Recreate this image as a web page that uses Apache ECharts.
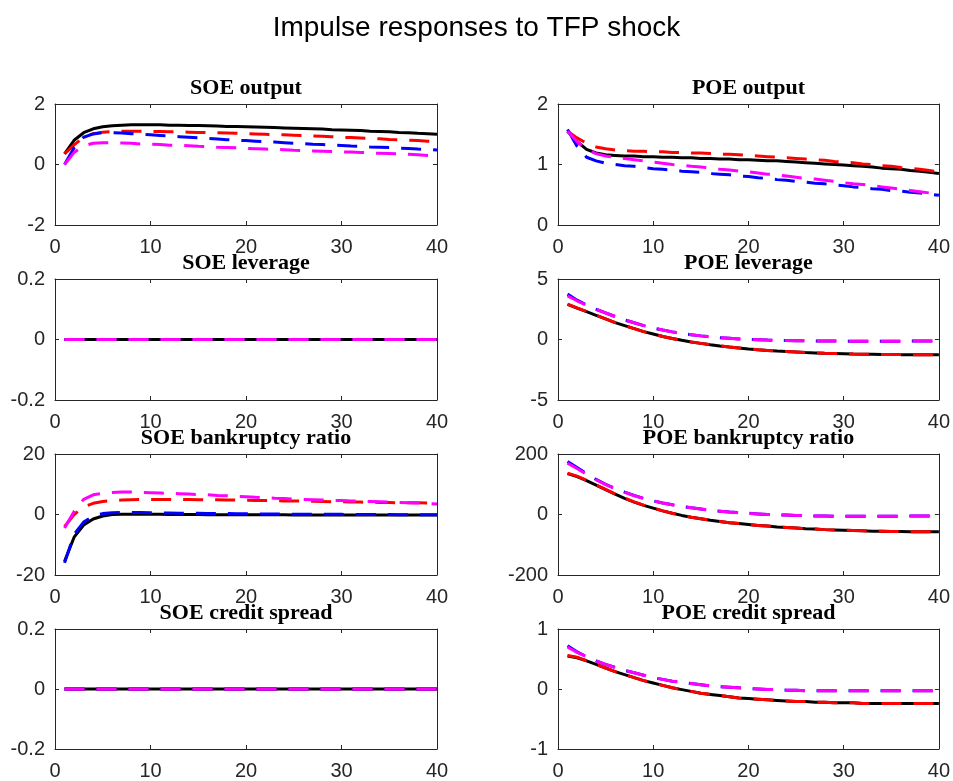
<!DOCTYPE html>
<html>
<head>
<meta charset="utf-8">
<title>Impulse responses to TFP shock</title>
<script src="https://cdn.jsdelivr.net/npm/echarts@6.0.0/dist/echarts.min.js"></script>
<style>
  html, body { margin: 0; padding: 0; background: #fff; }
  #chart { width: 953px; height: 781px; }
</style>
</head>
<body>
<div id="chart"></div>
<script>
const periods = [1, 2, 3, 4, 5, 6, 7, 8, 9, 10, 11, 12, 13, 14, 15, 16, 17, 18, 19, 20,
  21, 22, 23, 24, 25, 26, 27, 28, 29, 30, 31, 32, 33, 34, 35, 36, 37, 38, 39, 40];
const periodTicks = [0, 10, 20, 30, 40];

// SOE output
const soeOutputTicks = [-2, 0, 2];
const soeOutputBlack = [0.35, 0.80, 1.05, 1.18, 1.25, 1.28, 1.30, 1.31, 1.31, 1.31, 1.31, 1.30, 1.30, 1.29, 1.29, 1.28, 1.27, 1.26, 1.26, 1.25,
  1.24, 1.23, 1.22, 1.21, 1.20, 1.19, 1.18, 1.17, 1.15, 1.14, 1.13, 1.12, 1.10, 1.09, 1.08, 1.06, 1.05, 1.03, 1.02, 1.00];
const soeOutputRed = [0.35, 0.65, 0.90, 1.02, 1.07, 1.09, 1.10, 1.10, 1.10, 1.09, 1.09, 1.08, 1.08, 1.07, 1.06, 1.06, 1.05, 1.04, 1.03, 1.02,
  1.01, 1.00, 0.99, 0.98, 0.97, 0.96, 0.94, 0.93, 0.92, 0.90, 0.89, 0.88, 0.86, 0.85, 0.83, 0.82, 0.80, 0.79, 0.77, 0.75];
const soeOutputBlue = [0.00, 0.55, 0.90, 1.01, 1.05, 1.05, 1.04, 1.02, 1.00, 0.98, 0.96, 0.94, 0.92, 0.90, 0.88, 0.86, 0.84, 0.82, 0.80, 0.79,
  0.77, 0.75, 0.74, 0.72, 0.70, 0.69, 0.67, 0.66, 0.64, 0.63, 0.61, 0.60, 0.58, 0.57, 0.56, 0.54, 0.53, 0.51, 0.50, 0.48];
const soeOutputMagenta = [0.00, 0.40, 0.62, 0.70, 0.72, 0.72, 0.71, 0.70, 0.68, 0.67, 0.66, 0.64, 0.63, 0.62, 0.60, 0.59, 0.57, 0.56, 0.55, 0.53,
  0.52, 0.51, 0.50, 0.49, 0.47, 0.46, 0.45, 0.44, 0.43, 0.42, 0.41, 0.40, 0.38, 0.37, 0.36, 0.35, 0.34, 0.32, 0.30, 0.28];

// POE output
const poeOutputTicks = [0, 1, 2];
const poeOutputBlack = [1.55, 1.38, 1.25, 1.19, 1.16, 1.15, 1.14, 1.14, 1.13, 1.13, 1.12, 1.12, 1.11, 1.11, 1.10, 1.10, 1.09, 1.09, 1.08, 1.08,
  1.07, 1.06, 1.06, 1.05, 1.04, 1.03, 1.02, 1.01, 1.00, 0.99, 0.98, 0.97, 0.96, 0.94, 0.93, 0.92, 0.90, 0.89, 0.87, 0.85];
const poeOutputRed = [1.55, 1.44, 1.35, 1.29, 1.26, 1.24, 1.23, 1.22, 1.22, 1.21, 1.21, 1.20, 1.20, 1.19, 1.19, 1.18, 1.17, 1.17, 1.16, 1.15,
  1.14, 1.13, 1.12, 1.11, 1.10, 1.09, 1.08, 1.07, 1.05, 1.04, 1.03, 1.01, 1.00, 0.98, 0.97, 0.95, 0.94, 0.92, 0.90, 0.88];
const poeOutputBlue = [1.58, 1.30, 1.12, 1.06, 1.02, 1.00, 0.98, 0.97, 0.95, 0.93, 0.92, 0.91, 0.89, 0.88, 0.87, 0.85, 0.84, 0.83, 0.81, 0.80,
  0.78, 0.77, 0.75, 0.74, 0.72, 0.71, 0.69, 0.68, 0.66, 0.65, 0.63, 0.62, 0.60, 0.59, 0.57, 0.56, 0.54, 0.53, 0.51, 0.49];
const poeOutputMagenta = [1.55, 1.38, 1.25, 1.18, 1.14, 1.12, 1.10, 1.08, 1.06, 1.04, 1.02, 1.00, 0.99, 0.97, 0.96, 0.94, 0.92, 0.91, 0.89, 0.88,
  0.86, 0.84, 0.83, 0.81, 0.79, 0.77, 0.76, 0.74, 0.72, 0.70, 0.68, 0.67, 0.65, 0.63, 0.61, 0.59, 0.57, 0.55, 0.53, 0.51];

// SOE leverage
const soeLeverageTicks = [-0.2, 0, 0.2];
const soeLeverageBlack = [0, 0, 0, 0, 0, 0, 0, 0, 0, 0, 0, 0, 0, 0, 0, 0, 0, 0, 0, 0, 0, 0, 0, 0, 0, 0, 0, 0, 0, 0, 0, 0, 0, 0, 0, 0, 0, 0, 0, 0];
const soeLeverageRed = [0, 0, 0, 0, 0, 0, 0, 0, 0, 0, 0, 0, 0, 0, 0, 0, 0, 0, 0, 0, 0, 0, 0, 0, 0, 0, 0, 0, 0, 0, 0, 0, 0, 0, 0, 0, 0, 0, 0, 0];
const soeLeverageBlue = [0, 0, 0, 0, 0, 0, 0, 0, 0, 0, 0, 0, 0, 0, 0, 0, 0, 0, 0, 0, 0, 0, 0, 0, 0, 0, 0, 0, 0, 0, 0, 0, 0, 0, 0, 0, 0, 0, 0, 0];
const soeLeverageMagenta = [0, 0, 0, 0, 0, 0, 0, 0, 0, 0, 0, 0, 0, 0, 0, 0, 0, 0, 0, 0, 0, 0, 0, 0, 0, 0, 0, 0, 0, 0, 0, 0, 0, 0, 0, 0, 0, 0, 0, 0];

// POE leverage
const poeLeverageTicks = [-5, 0, 5];
const poeLeverageBlack = [2.90, 2.60, 2.30, 2.00, 1.70, 1.40, 1.15, 0.90, 0.65, 0.45, 0.25, 0.08, -0.07, -0.20, -0.32, -0.43, -0.53, -0.62, -0.70, -0.78,
  -0.85, -0.91, -0.96, -1.00, -1.04, -1.08, -1.11, -1.14, -1.16, -1.18, -1.20, -1.21, -1.22, -1.23, -1.24, -1.25, -1.25, -1.26, -1.26, -1.26];
const poeLeverageRed = [2.92, 2.61, 2.31, 2.01, 1.70, 1.40, 1.15, 0.90, 0.65, 0.45, 0.25, 0.08, -0.07, -0.20, -0.32, -0.43, -0.53, -0.62, -0.70, -0.78,
  -0.85, -0.91, -0.96, -1.00, -1.04, -1.08, -1.11, -1.14, -1.16, -1.18, -1.20, -1.21, -1.22, -1.23, -1.24, -1.25, -1.25, -1.26, -1.26, -1.26];
const poeLeverageBlue = [3.75, 3.25, 2.85, 2.50, 2.20, 1.90, 1.62, 1.38, 1.15, 0.95, 0.78, 0.63, 0.50, 0.39, 0.30, 0.22, 0.15, 0.10, 0.05, 0.01,
  -0.02, -0.05, -0.07, -0.09, -0.10, -0.11, -0.12, -0.13, -0.13, -0.14, -0.14, -0.14, -0.14, -0.14, -0.14, -0.14, -0.13, -0.13, -0.13, -0.12];
const poeLeverageMagenta = [3.60, 3.20, 2.83, 2.49, 2.19, 1.90, 1.62, 1.38, 1.15, 0.95, 0.78, 0.63, 0.50, 0.39, 0.30, 0.22, 0.15, 0.10, 0.05, 0.01,
  -0.02, -0.05, -0.07, -0.09, -0.10, -0.11, -0.12, -0.13, -0.13, -0.14, -0.14, -0.14, -0.14, -0.14, -0.14, -0.14, -0.13, -0.13, -0.13, -0.12];

// SOE bankruptcy ratio
const soeBankruptcyTicks = [-20, 0, 20];
const soeBankruptcyBlack = [-15.5, -7.5, -3.5, -1.5, -0.5, 0.0, 0.1, 0.1, 0.1, 0.1, 0.05, 0.0, 0.0, 0.0, 0.0, -0.05, -0.05, -0.05, -0.1, -0.1,
  -0.1, -0.1, -0.1, -0.1, -0.15, -0.15, -0.15, -0.15, -0.15, -0.15, -0.2, -0.2, -0.2, -0.2, -0.2, -0.2, -0.2, -0.2, -0.2, -0.2];
const soeBankruptcyRed = [-4.0, 0.0, 2.5, 3.7, 4.3, 4.6, 4.8, 4.9, 5.0, 5.0, 5.0, 5.0, 5.0, 4.95, 4.9, 4.9, 4.85, 4.8, 4.75, 4.7,
  4.65, 4.6, 4.55, 4.5, 4.45, 4.4, 4.35, 4.3, 4.25, 4.2, 4.15, 4.1, 4.05, 4.0, 3.95, 3.9, 3.9, 3.85, 3.8, 3.8];
const soeBankruptcyBlue = [-16.0, -6.5, -2.5, -0.5, 0.3, 0.6, 0.7, 0.7, 0.65, 0.6, 0.55, 0.5, 0.45, 0.4, 0.4, 0.35, 0.3, 0.3, 0.25, 0.25,
  0.2, 0.2, 0.15, 0.15, 0.1, 0.1, 0.1, 0.05, 0.05, 0.05, 0.0, 0.0, 0.0, 0.0, 0.0, -0.05, -0.05, -0.05, -0.05, -0.05];
const soeBankruptcyMagenta = [-4.5, 1.0, 5.0, 6.5, 7.0, 7.3, 7.4, 7.4, 7.3, 7.2, 7.1, 7.0, 6.9, 6.8, 6.6, 6.5, 6.3, 6.2, 6.0, 5.9,
  5.7, 5.6, 5.4, 5.3, 5.1, 5.0, 4.9, 4.8, 4.7, 4.6, 4.5, 4.4, 4.3, 4.2, 4.1, 4.0, 3.9, 3.8, 3.6, 3.5];

// POE bankruptcy ratio
const poeBankruptcyTicks = [-200, 0, 200];
const poeBankruptcyBlack = [135, 125, 112, 97, 82, 67, 53, 41, 30, 21, 12, 4, -3, -9, -14, -19, -23, -27, -30, -33,
  -36, -38, -41, -43, -45, -47, -48, -50, -51, -52, -53, -54, -55, -55, -56, -56, -57, -57, -57, -57];
const poeBankruptcyRed = [137, 127, 113, 98, 83, 68, 54, 42, 31, 21, 12, 4, -3, -9, -14, -19, -23, -27, -30, -33,
  -36, -38, -41, -43, -45, -47, -48, -50, -51, -52, -53, -54, -55, -55, -56, -56, -57, -57, -57, -57];
const poeBankruptcyBlue = [175, 155, 135, 116, 100, 86, 74, 63, 53, 45, 38, 32, 27, 22, 18, 14, 11, 8, 6, 4,
  2, 0, -1, -2, -3, -4, -5, -5, -6, -6, -6, -6, -6, -6, -6, -6, -5, -5, -5, -5];
const poeBankruptcyMagenta = [170, 152, 133, 115, 99, 85, 73, 62, 53, 45, 38, 32, 27, 22, 18, 14, 11, 8, 6, 4,
  2, 0, -1, -2, -3, -4, -5, -5, -6, -6, -6, -6, -6, -6, -6, -6, -5, -5, -5, -5];

// SOE credit spread
const soeSpreadTicks = [-0.2, 0, 0.2];
const soeSpreadBlack = [0, 0, 0, 0, 0, 0, 0, 0, 0, 0, 0, 0, 0, 0, 0, 0, 0, 0, 0, 0, 0, 0, 0, 0, 0, 0, 0, 0, 0, 0, 0, 0, 0, 0, 0, 0, 0, 0, 0, 0];
const soeSpreadRed = [0, 0, 0, 0, 0, 0, 0, 0, 0, 0, 0, 0, 0, 0, 0, 0, 0, 0, 0, 0, 0, 0, 0, 0, 0, 0, 0, 0, 0, 0, 0, 0, 0, 0, 0, 0, 0, 0, 0, 0];
const soeSpreadBlue = [0, 0, 0, 0, 0, 0, 0, 0, 0, 0, 0, 0, 0, 0, 0, 0, 0, 0, 0, 0, 0, 0, 0, 0, 0, 0, 0, 0, 0, 0, 0, 0, 0, 0, 0, 0, 0, 0, 0, 0];
const soeSpreadMagenta = [0, 0, 0, 0, 0, 0, 0, 0, 0, 0, 0, 0, 0, 0, 0, 0, 0, 0, 0, 0, 0, 0, 0, 0, 0, 0, 0, 0, 0, 0, 0, 0, 0, 0, 0, 0, 0, 0, 0, 0];

// POE credit spread
const poeSpreadTicks = [-1, 0, 1];
const poeSpreadBlack = [0.55, 0.52, 0.47, 0.41, 0.35, 0.29, 0.24, 0.19, 0.14, 0.10, 0.06, 0.02, -0.01, -0.04, -0.07, -0.09, -0.11, -0.13, -0.15, -0.16,
  -0.17, -0.18, -0.19, -0.20, -0.21, -0.21, -0.22, -0.22, -0.23, -0.23, -0.23, -0.24, -0.24, -0.24, -0.24, -0.24, -0.24, -0.24, -0.24, -0.24];
const poeSpreadRed = [0.56, 0.53, 0.47, 0.41, 0.35, 0.29, 0.24, 0.19, 0.14, 0.10, 0.06, 0.02, -0.01, -0.04, -0.07, -0.09, -0.11, -0.13, -0.15, -0.16,
  -0.17, -0.18, -0.19, -0.20, -0.21, -0.21, -0.22, -0.22, -0.23, -0.23, -0.23, -0.24, -0.24, -0.24, -0.24, -0.24, -0.24, -0.24, -0.24, -0.24];
const poeSpreadBlue = [0.72, 0.62, 0.54, 0.47, 0.41, 0.36, 0.31, 0.27, 0.23, 0.19, 0.16, 0.13, 0.11, 0.09, 0.07, 0.05, 0.04, 0.03, 0.02, 0.01,
  0.00, -0.01, -0.01, -0.02, -0.02, -0.03, -0.03, -0.03, -0.03, -0.03, -0.03, -0.03, -0.03, -0.03, -0.03, -0.03, -0.03, -0.03, -0.03, -0.03];
const poeSpreadMagenta = [0.70, 0.61, 0.54, 0.47, 0.41, 0.36, 0.31, 0.27, 0.23, 0.19, 0.16, 0.13, 0.11, 0.09, 0.07, 0.05, 0.04, 0.03, 0.02, 0.01,
  0.00, -0.01, -0.01, -0.02, -0.02, -0.03, -0.03, -0.03, -0.03, -0.03, -0.03, -0.03, -0.03, -0.03, -0.03, -0.03, -0.03, -0.03, -0.03, -0.03];

const panels = [
  { title: 'SOE output', ticks: soeOutputTicks, lines: [soeOutputBlack, soeOutputRed, soeOutputBlue, soeOutputMagenta] },
  { title: 'POE output', ticks: poeOutputTicks, lines: [poeOutputBlack, poeOutputRed, poeOutputBlue, poeOutputMagenta] },
  { title: 'SOE leverage', ticks: soeLeverageTicks, lines: [soeLeverageBlack, soeLeverageRed, soeLeverageBlue, soeLeverageMagenta] },
  { title: 'POE leverage', ticks: poeLeverageTicks, lines: [poeLeverageBlack, poeLeverageRed, poeLeverageBlue, poeLeverageMagenta] },
  { title: 'SOE bankruptcy ratio', ticks: soeBankruptcyTicks, lines: [soeBankruptcyBlack, soeBankruptcyRed, soeBankruptcyBlue, soeBankruptcyMagenta] },
  { title: 'POE bankruptcy ratio', ticks: poeBankruptcyTicks, lines: [poeBankruptcyBlack, poeBankruptcyRed, poeBankruptcyBlue, poeBankruptcyMagenta] },
  { title: 'SOE credit spread', ticks: soeSpreadTicks, lines: [soeSpreadBlack, soeSpreadRed, soeSpreadBlue, soeSpreadMagenta] },
  { title: 'POE credit spread', ticks: poeSpreadTicks, lines: [poeSpreadBlack, poeSpreadRed, poeSpreadBlue, poeSpreadMagenta] },
];

const lineColors = ['#000000', '#ff0000', '#0000ff', '#ff00ff'];
const lineTypes = ['solid', [20, 12], [20, 12], [20, 12]];

const gridLefts = [55, 558];
const gridWidths = [382, 383];
const gridTops = [104, 279, 454, 629];
const gridHeight = 121;

const axisColor = '#262626';
const sansFont = '"Liberation Sans", Arial, Helvetica, sans-serif';
const serifFont = '"Liberation Serif", "Times New Roman", Times, serif';

const grids = [];
const xAxes = [];
const yAxes = [];
const series = [];

function boxAxis(extra) {
  return Object.assign({
    type: 'value',
    axisLine: { show: true, onZero: false, lineStyle: { color: axisColor, width: 1 } },
    axisTick: { show: true, inside: true, length: 4, lineStyle: { color: axisColor } },
    splitLine: { show: false },
  }, extra);
}

panels.forEach((p, i) => {
  const col = i % 2;
  const row = Math.floor(i / 2);
  grids.push({
    left: gridLefts[col],
    top: gridTops[row],
    width: gridWidths[col],
    height: gridHeight,
  });

  const xRange = {
    gridIndex: i,
    min: periodTicks[0],
    max: periodTicks[periodTicks.length - 1],
    interval: periodTicks[1] - periodTicks[0],
  };
  xAxes.push(boxAxis(Object.assign({}, xRange, {
    position: 'bottom',
    axisLabel: { color: axisColor, fontSize: 20, fontFamily: sansFont, margin: 12, showMinLabel: true, showMaxLabel: true },
  })));
  // top axis closes the box and carries the panel title
  xAxes.push(boxAxis(Object.assign({}, xRange, {
    position: 'top',
    axisLabel: { show: false },
    name: p.title,
    nameLocation: 'middle',
    nameGap: 5,
    nameTextStyle: { color: '#000', fontSize: 22, fontWeight: 'bold', fontFamily: serifFont },
  })));

  const yRange = {
    gridIndex: i,
    min: p.ticks[0],
    max: p.ticks[p.ticks.length - 1],
    interval: p.ticks[1] - p.ticks[0],
  };
  yAxes.push(boxAxis(Object.assign({}, yRange, {
    position: 'left',
    axisLabel: { color: axisColor, fontSize: 20, fontFamily: sansFont, margin: 10, showMinLabel: true, showMaxLabel: true },
  })));
  yAxes.push(boxAxis(Object.assign({}, yRange, {
    position: 'right',
    axisLabel: { show: false },
  })));

  p.lines.forEach((values, k) => {
    series.push({
      type: 'line',
      xAxisIndex: i * 2,
      yAxisIndex: i * 2,
      data: values.map((v, j) => [periods[j], v]),
      showSymbol: false,
      symbol: 'none',
      lineStyle: { color: lineColors[k], width: 3, type: lineTypes[k] },
      silent: true,
    });
  });
});

const chart = echarts.init(document.getElementById('chart'));
chart.setOption({
  animation: false,
  backgroundColor: '#ffffff',
  title: {
    text: 'Impulse responses to TFP shock',
    left: 'center',
    top: 9,
    textStyle: { color: '#000', fontSize: 28, fontWeight: 'normal', fontFamily: sansFont },
  },
  grid: grids,
  xAxis: xAxes,
  yAxis: yAxes,
  series: series,
});
</script>
</body>
</html>
